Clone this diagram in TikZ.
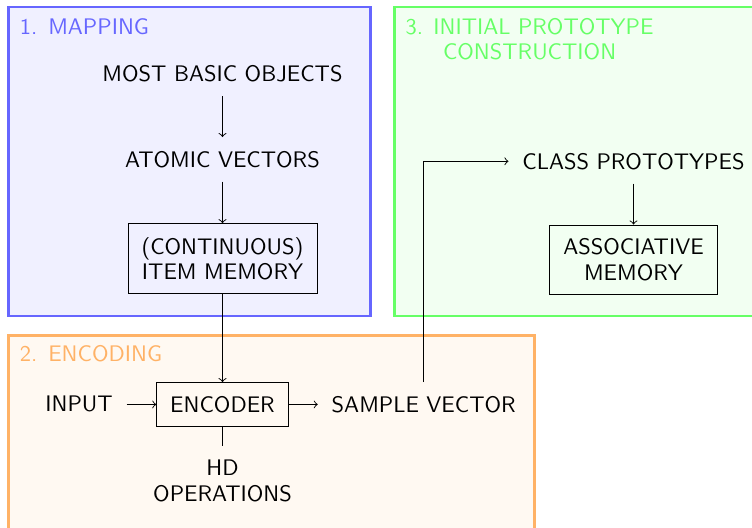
\documentclass[tikz,border=0pt]{standalone}
\usepackage{fontspec}
\usetikzlibrary{arrows}

% phase colours
\colorlet{mapline}{blue!60}
\colorlet{mapfill}{blue!6}
\colorlet{encline}{orange!60}
\colorlet{encfill}{orange!5}
\colorlet{protoline}{green!60}
\colorlet{protofill}{green!5}

\tikzset{
  every node/.style={font=\fontsize{10}{11.5}\selectfont\sffamily, inner sep=6pt, align=center},
  phase/.style={line width=1pt},
  phasetitle/.style={anchor=north west, inner sep=0pt},
  boxed/.style={draw, line width=0.4pt},
  flow/.style={->, line width=0.4pt},
  plain/.style={line width=0.4pt},
}

\begin{document}
\begin{tikzpicture}[x=0.44444pt, y=-0.44444pt]
  \useasboundingbox (0,0) rectangle (752,527);

  % phase panels
  \draw[phase, draw=mapline, fill=mapfill] (8.5,7) rectangle (370.5,315.7);
  \draw[phase, draw=protoline, fill=protofill] (394.5,7) rectangle (760,315.7);
  \draw[phase, draw=encline, fill=encfill] (8.5,335.5) rectangle (534.5,540);

  % panel titles
  \node[phasetitle, text=mapline] (t1) at (19.5,18.3) {\makebox[12.6pt][l]{1.}MAPPING};
  \node[phasetitle, text=encline] (t2) at (19.5,345) {\makebox[12.6pt][l]{2.}ENCODING};
  \node[phasetitle, text=protoline, align=center] (t3) at (405.2,18.3)
       {\makebox[12.3pt][l]{3.}INITIAL PROTOTYPE\\[-0.6pt]CONSTRUCTION};

  % mapping
  \node (mbo) at (222.5,74) {MOST BASIC OBJECTS};
  \node (atom) at (222.5,159.3) {ATOMIC VECTORS};
  \node[boxed] (item) at (222.5,258.8) {(CONTINUOUS)\\ITEM MEMORY};

  % encoding
  \node (input) at (79,404.4) {INPUT};
  \node[boxed] (enc) at (222.5,404.4) {ENCODER};
  \node (sample) at (423.7,404.4) {SAMPLE VECTOR};
  \node (hd) at (222.5,481) {HD\\OPERATIONS};

  % prototype construction
  \node (proto) at (633.5,161.3) {CLASS PROTOTYPES};
  \node[boxed] (assoc) at (633.5,259.7) {ASSOCIATIVE\\MEMORY};

  % connectors
  \draw[flow] (mbo) -- (atom);
  \draw[flow] (atom) -- (item);
  \draw[flow] (item) -- (enc);
  \draw[flow] (input) -- (enc);
  \draw[flow] (enc) -- (sample);
  \draw[plain] (enc) -- (hd);
  \draw[flow] (sample.north) |- (proto.west);
  \draw[flow] (proto) -- (assoc);
\end{tikzpicture}
\end{document}
